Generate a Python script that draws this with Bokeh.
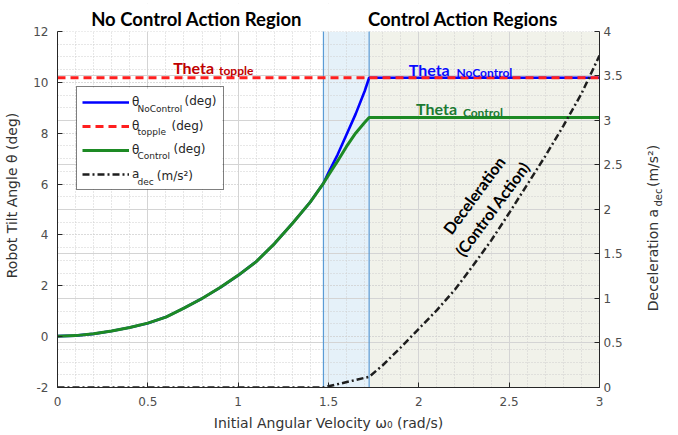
from bokeh.plotting import figure
from bokeh.layouts import row
from bokeh.models import (Range1d, LinearAxis, FixedTicker, Grid, BoxAnnotation,
                          Label, Legend, LegendItem, NumeralTickFormatter)
from bokeh.embed import file_html
from bokeh.resources import INLINE
import math

# ---------------- data ----------------
omega_theta = [0.0, 0.1, 0.2, 0.3, 0.4, 0.5, 0.6, 0.7, 0.8, 0.9, 1.0, 1.1, 1.2, 1.3, 1.4, 1.472,
               1.5, 1.55, 1.6, 1.65, 1.7, 1.725, 3.0]
theta_nocontrol = [0.02, 0.04, 0.11, 0.22, 0.36, 0.53, 0.77, 1.12, 1.5, 1.93, 2.41, 2.95, 3.65, 4.45, 5.3, 6.03,
                   6.45, 7.15, 7.95, 8.75, 9.65, 10.18, 10.18]
theta_control = [0.02, 0.04, 0.11, 0.22, 0.36, 0.53, 0.77, 1.12, 1.5, 1.93, 2.41, 2.95, 3.65, 4.45, 5.3, 6.03,
                 6.35, 6.9, 7.48, 8.0, 8.42, 8.62, 8.62]
omega_topple = [0.0, 3.0]
theta_topple = [10.18, 10.18]
omega_dec = [0.0, 1.472, 1.725, 1.8, 1.9, 2.0, 2.1, 2.2, 2.3, 2.4, 2.5, 2.6, 2.7, 2.8, 2.9, 3.0]
a_dec = [0.0, 0.0, 0.12, 0.25, 0.45, 0.66, 0.87, 1.10, 1.37, 1.65, 1.96, 2.28, 2.60, 2.94, 3.30, 3.73]
region_bounds = [1.472, 1.725, 3.0]

x_ticks = [0, 0.5, 1, 1.5, 2, 2.5, 3]
y_ticks = [-2, 0, 2, 4, 6, 8, 10, 12]
dec_ticks = [0, 0.5, 1, 1.5, 2, 2.5, 3, 3.5, 4]

AX = "#262626"
TK = "#4d4d4d"
SANS = "DejaVu Sans"
BOLD = "Lato"

# headroom above the axes for the region titles (axis lines are bounded to the data limits)
Y_TOP = 13.1
DEC_TOP = dec_ticks[-1] * (Y_TOP - y_ticks[0]) / (y_ticks[-1] - y_ticks[0])

p = figure(width=625, height=433, output_backend="svg", toolbar_location=None,
           x_range=Range1d(0, 3), y_range=Range1d(-2, Y_TOP),
           min_border_left=57, min_border_right=26, min_border_top=3, min_border_bottom=46)
p.outline_line_color = None
p.background_fill_color = "white"
p.extra_y_ranges = {"dec": Range1d(0, DEC_TOP)}

# ---------------- background regions ----------------
p.add_layout(BoxAnnotation(left=region_bounds[0], right=region_bounds[1], top=y_ticks[-1],
                           fill_color="#e5f1f9", fill_alpha=1, line_color=None, level="image"))
p.add_layout(BoxAnnotation(left=region_bounds[1], right=region_bounds[2], top=y_ticks[-1],
                           fill_color="#f1f2ea", fill_alpha=1, line_color=None, level="image"))

# ---------------- axes & grids ----------------
p.xaxis.ticker = FixedTicker(ticks=x_ticks, minor_ticks=[i / 10 for i in range(31)])
p.xaxis.formatter = NumeralTickFormatter(format="0.[0]")
p.xaxis.axis_label = "Initial Angular Velocity ω₀ (rad/s)"

p.yaxis.ticker = FixedTicker(ticks=y_ticks, minor_ticks=[-2 + i * 0.5 for i in range(29)])
p.yaxis.formatter = NumeralTickFormatter(format="0.[0]")
p.yaxis.axis_label = "Robot Tilt Angle θ (deg)"
p.yaxis.bounds = (y_ticks[0], y_ticks[-1])

rax = LinearAxis(y_range_name="dec", ticker=FixedTicker(ticks=dec_ticks),
                 formatter=NumeralTickFormatter(format="0.[0]"), bounds=(dec_ticks[0], dec_ticks[-1]))
p.add_layout(rax, "right")

for ax in [p.xaxis[0], p.yaxis[0], rax]:
    ax.axis_line_color = AX
    ax.axis_line_width = 1
    ax.major_tick_line_color = AX
    ax.major_tick_in = 5
    ax.major_tick_out = 0
    ax.minor_tick_line_color = None
    ax.major_label_text_font = SANS
    ax.major_label_text_font_size = "12px"
    ax.major_label_text_color = TK
    ax.axis_label_text_font = SANS
    ax.axis_label_text_font_size = "14px"
    ax.axis_label_text_font_style = "normal"
    ax.axis_label_text_color = "#333333"
p.xaxis.major_label_standoff = 5
p.xaxis.axis_label_standoff = 6
p.yaxis.major_label_standoff = 5
p.yaxis.axis_label_standoff = 10
rax.major_label_standoff = 4

p.xgrid.grid_line_color = "#d4d4d4"
p.xgrid.grid_line_width = 1
p.xgrid.minor_grid_line_color = "#cfcfcf"
p.xgrid.minor_grid_line_dash = "1 2"
p.ygrid.grid_line_color = "#cfcfcf"
p.ygrid.grid_line_dash = "1 2"
p.ygrid.minor_grid_line_color = "#cfcfcf"
p.ygrid.minor_grid_line_dash = "1 2"
p.add_layout(Grid(dimension=1, y_range_name="dec", ticker=FixedTicker(ticks=dec_ticks[1:-1]),
                  grid_line_color="#d4d4d4", grid_line_width=1))

# white cover for the headroom above the axes (hides grid lines there)
p.add_layout(BoxAnnotation(bottom=y_ticks[-1], fill_color="white", fill_alpha=1,
                           line_color=None, level="underlay"))
# white legend background (legend itself is transparent so its text pieces can show)
p.add_layout(BoxAnnotation(left=0.106, right=0.912, top=9.75, bottom=5.80, fill_color="white",
                           fill_alpha=1, line_color=None, level="underlay"))

# region boundary lines
p.segment(x0=region_bounds[:2], y0=[y_ticks[0]] * 2, x1=region_bounds[:2], y1=[y_ticks[-1]] * 2,
          line_color="#5b9bd5", line_width=1.2)

# ---------------- series ----------------
r_blue = p.line(omega_theta, theta_nocontrol, line_color="#0000ff", line_width=2.6)
r_red = p.line(omega_topple, theta_topple, line_color="#ff1f1f", line_width=3, line_dash="8 5")
r_green = p.line(omega_theta, theta_control, line_color="#1d8a24", line_width=3)
r_dec = p.line(omega_dec, a_dec, y_range_name="dec", line_color="#1e1e1e", line_width=2.5,
               line_dash="7 3 2 3")

# ---------------- legend ----------------
legend = Legend(items=[LegendItem(label="θ", renderers=[r_blue]),
                       LegendItem(label="θ", renderers=[r_red]),
                       LegendItem(label="θ", renderers=[r_green]),
                       LegendItem(label="a", renderers=[r_dec])],
                location=(19, 197), glyph_width=47, glyph_height=20, label_height=20,
                spacing=4, padding=5, margin=0, label_width=86, label_standoff=3,
                border_line_color="black", border_line_width=1, background_fill_alpha=0,
                label_text_font=SANS, label_text_font_size="12px", label_text_color="#262626")
p.add_layout(legend)


def lab(fig, x, y, text, size, color="#262626", font=SANS, style="normal", align="left",
        baseline="middle", angle=0.0):
    fig.add_layout(Label(x=x, y=y, text=text, text_font=font, text_font_size=size,
                         text_font_style=style, text_color=color, text_align=align,
                         text_baseline=baseline, angle=angle))


# legend subscripts / units
lab(p, 0.443, 8.97, "NoControl", "9px")
lab(p, 0.703, 9.25, "(deg)", "12px")
lab(p, 0.443, 8.03, "topple", "9px")
lab(p, 0.631, 8.30, "(deg)", "12px")
lab(p, 0.443, 7.10, "Control", "9px")
lab(p, 0.642, 7.38, "(deg)", "12px")
lab(p, 0.443, 6.07, "dec", "9px")
lab(p, 0.55, 6.33, "(m/s²)", "12px")

# ---------------- annotations ----------------
lab(p, 0.77, 12.51, "No Control Action Region", "18.5px", "black", BOLD, "bold", "center")
lab(p, 2.244, 12.51, "Control Action Regions", "18.5px", "black", BOLD, "bold", "center")

lab(p, 0.640, 10.60, "Theta", "16px", "#c00000", BOLD, "bold", baseline="alphabetic")
lab(p, 0.894, 10.47, "topple", "12px", "#c00000", BOLD, "bold", baseline="alphabetic")
lab(p, 1.944, 10.49, "Theta", "16px", "#0a0aff", BOLD, "bold", baseline="alphabetic")
lab(p, 2.208, 10.38, "NoControl", "12px", "#0a0aff", BOLD, "bold", baseline="alphabetic")
lab(p, 1.985, 8.96, "Theta", "16px", "#1b7a33", BOLD, "bold", baseline="alphabetic")
lab(p, 2.244, 8.83, "Control", "12px", "#1b7a33", BOLD, "bold", baseline="alphabetic")

lab(p, 2.355, 5.3, "Deceleration\n(Control Action)", "16px", "black", BOLD, "bold", "center",
    "middle", math.radians(53.5))

# ---------------- right-hand axis title (separate strip so the subscript can be real text) ----
q = figure(width=51, height=433, output_backend="svg", toolbar_location=None,
           x_range=Range1d(0, 51), y_range=Range1d(0, 433),
           x_axis_location=None, y_axis_location=None, min_border=0)
q.outline_line_color = None
q.grid.visible = False
lab(q, 27, 86, "Deceleration a", "14px", "#333333", SANS, "normal", "left", "middle", math.pi / 2)
lab(q, 33, 204, "dec", "10px", "#333333", SANS, "normal", "left", "middle", math.pi / 2)
lab(q, 27, 226, "(m/s²)", "14px", "#333333", SANS, "normal", "left", "middle", math.pi / 2)

open("out.html", "w").write(file_html(row(p, q), INLINE))
